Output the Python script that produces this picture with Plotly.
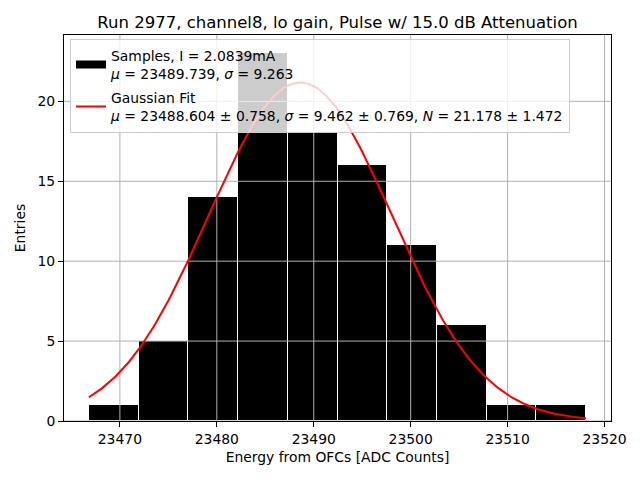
import numpy as np
import plotly.graph_objects as go

# ---- data ----
bin_edges = [23466.8, 23471.93, 23477.06, 23482.19, 23487.32, 23492.45,
             23497.58, 23502.71, 23507.84, 23512.97, 23518.1]
counts = [1, 5, 14, 23, 18, 16, 11, 6, 1, 1]

fit_mu = 23488.604
fit_sigma = 9.462
fit_N = 21.178

x_ticks = [23470, 23480, 23490, 23500, 23510, 23520]
y_ticks = [0, 5, 10, 15, 20]

title_text = "Run 2977, channel8, lo gain, Pulse w/ 15.0 dB Attenuation"
samples_label = "Samples, I = 2.0839mA<br><i>μ</i> = 23489.739, <i>σ</i> = 9.263"
fit_label = ("Gaussian Fit<br><i>μ</i> = 23488.604 ± 0.758, <i>σ</i> = 9.462 ± 0.769, "
             "<i>N</i> = 21.178 ± 1.472")

# ---- derived ----
edges = np.array(bin_edges)
centers = (edges[:-1] + edges[1:]) / 2
widths = np.diff(edges)
span = edges[-1] - edges[0]
x_range = [edges[0] - 0.05 * span, edges[-1] + 0.05 * span]
y_range = [0, max(counts) * 1.05]

xf = np.linspace(edges[0], edges[-1], 300)
yf = fit_N * np.exp(-((xf - fit_mu) ** 2) / (2 * fit_sigma ** 2))

FONT = "DejaVu Sans"
GRID = "#b0b0b0"
FS = 13.9
OFF = 8  # page body margin

fig = go.Figure()
fig.add_trace(go.Bar(
    x=centers, y=counts, width=widths,
    marker=dict(color="black", line=dict(color="white", width=1)),
    showlegend=False, hoverinfo="skip",
))

# grid lines (above bars, below the fit curve)
gx, gy = [], []
for t in x_ticks:
    gx += [t, t, None]
    gy += [y_range[0], y_range[1], None]
for t in y_ticks:
    gx += [x_range[0], x_range[1], None]
    gy += [t, t, None]
fig.add_trace(go.Scatter(x=gx, y=gy, mode="lines",
                         line=dict(color=GRID, width=1),
                         showlegend=False, hoverinfo="skip"))

# legend proxy for the histogram
fig.add_trace(go.Scatter(x=[None], y=[None], mode="lines",
                         line=dict(color="black", width=8),
                         name=samples_label, legendgroup="a"))
fig.add_trace(go.Scatter(x=xf, y=yf, mode="lines",
                         line=dict(color="red", width=2),
                         name=fit_label, legendgroup="b"))

axis_common = dict(
    showline=True, linecolor="black", linewidth=1, mirror=True,
    ticks="outside", ticklen=5, tickcolor="black", tickwidth=1,
    showgrid=False, zeroline=False, automargin=False,
    tickfont=dict(family=FONT, size=FS, color="black"),
)

W, H = 640 - OFF, 480 - OFF
fig.update_layout(
    width=W, height=H,
    margin=dict(l=64 - OFF, r=29, t=35 - OFF, b=59, autoexpand=False),
    paper_bgcolor="white", plot_bgcolor="white",
    bargap=0,
    title=dict(text=title_text, x=0.5, xanchor="center",
               y=1 - (22.5 - OFF) / H, yanchor="middle", xref="paper",
               font=dict(family=FONT, size=16.5, color="black")),
    xaxis=dict(range=x_range, tickvals=x_ticks,
               ticktext=[str(t) for t in x_ticks],
               title=dict(text="Energy from OFCs [ADC Counts]", standoff=6,
                          font=dict(family=FONT, size=FS, color="black")),
               **axis_common),
    yaxis=dict(range=y_range, tickvals=y_ticks,
               ticktext=[str(t) for t in y_ticks],
               title=dict(text="Entries", standoff=8,
                          font=dict(family=FONT, size=FS, color="black")),
               **axis_common),
    legend=dict(x=0.011, y=0.990, xanchor="left", yanchor="top",
                bgcolor="rgba(255,255,255,0.8)", bordercolor="#cccccc",
                borderwidth=1, tracegroupgap=3,
                font=dict(family=FONT, size=FS, color="black")),
)

fig.write_html("out.html")
